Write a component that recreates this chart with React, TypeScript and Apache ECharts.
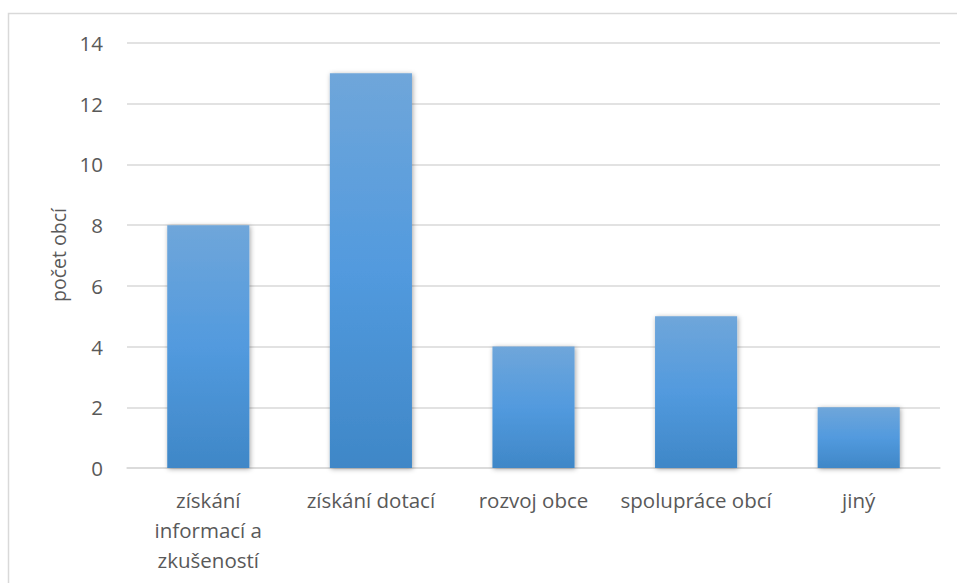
import React, { useEffect, useRef } from "react";
import * as echarts from "echarts";

const categories = ["získání\ninformací a\nzkušeností", "získání dotací", "rozvoj obce", "spolupráce obcí", "jiný"];
const values = [8, 13, 4, 5, 2];
const yAxisName = "počet obcí";

export default function App() {
  const ref = useRef<HTMLDivElement>(null);
  useEffect(() => {
    document.body.style.margin = "0";
    const chart = echarts.init(ref.current!, null, { renderer: "svg" });
    const font = "'Open Sans', 'Noto Sans', sans-serif";
    chart.setOption({
      animation: false,
      backgroundColor: "#ffffff",
      graphic: [
        {
          type: "rect",
          shape: { x: 8.5, y: 13.5, width: 960, height: 600 },
          style: { fill: "none", stroke: "#d9d9d9", lineWidth: 1.5 },
          silent: true,
        },
        {
          type: "text",
          x: 58,
          y: 255,
          rotation: Math.PI / 2,
          style: {
            text: yAxisName,
            fill: "#595959",
            font: "19.5px 'Open Sans', 'Noto Sans', sans-serif",
            align: "center",
            verticalAlign: "middle",
          },
          silent: true,
        },
      ],
      grid: { left: 127, right: 17, top: 43, bottom: 115, containLabel: false },
      xAxis: {
        type: "category",
        data: categories,
        axisLine: { show: true, lineStyle: { color: "#d9d9d9", width: 1.5 } },
        axisTick: { show: false },
        axisLabel: {
          color: "#595959",
          fontFamily: font,
          fontSize: 20.5,
          lineHeight: 30,
          margin: 17,
          interval: 0,
        },
      },
      yAxis: {
        type: "value",
        min: 0,
        max: 14,
        interval: 2,
        axisLine: { show: false },
        axisTick: { show: false },
        axisLabel: { color: "#595959", fontFamily: font, fontSize: 20.5, margin: 24 },
        splitLine: { lineStyle: { color: "#d9d9d9", width: 1.5 } },
      },
      series: [
        {
          type: "bar",
          data: values,
          barWidth: "50.5%",
          itemStyle: {
            color: new echarts.graphic.LinearGradient(0, 0, 0, 1, [
              { offset: 0, color: "#6fa6da" },
              { offset: 0.5, color: "#529ade" },
              { offset: 1, color: "#3f87c7" },
            ]),
            shadowColor: "rgba(0,0,0,0.35)",
            shadowBlur: 5,
            shadowOffsetX: 1,
            shadowOffsetY: 1,
          },
        },
      ],
    });
    return () => chart.dispose();
  }, []);
  return <div ref={ref} style={{ position: "fixed", left: 0, top: 0, width: 957, height: 583 }} />;
}
